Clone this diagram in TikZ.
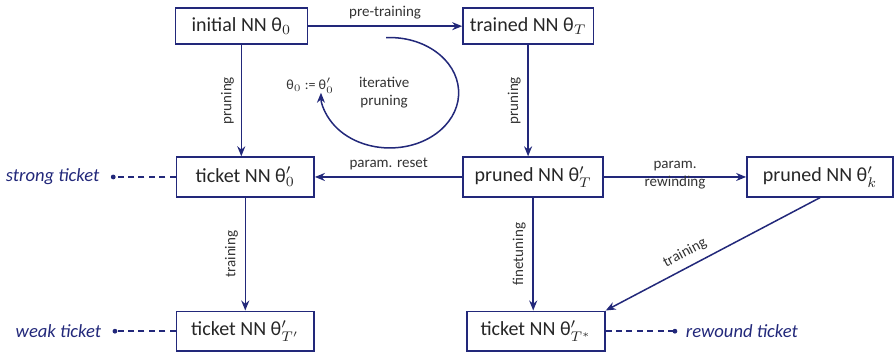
\documentclass[tikz,border=0pt]{standalone}
\usepackage{fontspec}
\setmainfont{Carlito}
\usetikzlibrary{arrows.meta}
\definecolor{navy}{RGB}{34,40,122}
\newcommand{\thp}[1]{θ$'_{#1}$}

\begin{document}
\begin{tikzpicture}[
  nnbox/.style={draw=navy, line width=0.75pt, minimum width=2.42cm, minimum height=0.70cm, font=\fontsize{10}{12}\selectfont, text=black!85},
  arr/.style={draw=navy, line width=0.75pt, -{Stealth[length=5pt,width=4pt]}},
  lbl/.style={font=\fontsize{7.5}{9}\selectfont, text=black!80},
  vlbl/.style={lbl, midway, rotate=90, anchor=south},
  tag/.style={font=\fontsize{9.3}{11}\selectfont\itshape, text=navy},
  tagline/.style={draw=navy, line width=0.75pt, dash pattern=on 3pt off 2.2pt}
]
\useasboundingbox (0,0) rectangle (15.71,6.24);

\node[nnbox, minimum width=2.32cm, minimum height=0.63cm] (init) at (4.24,5.78) {initial NN θ$_0$};
\node[nnbox, minimum width=2.29cm, minimum height=0.63cm] (trained) at (9.28,5.78) {trained NN θ$_T$};
\node[nnbox] (ticket0) at (4.31,3.13) {ticket NN \thp{0}};
\node[nnbox, minimum width=2.46cm] (prunedT) at (9.37,3.13) {pruned NN \thp{T}};
\node[nnbox, minimum width=2.57cm] (prunedk) at (14.41,3.13) {pruned NN \thp{k}};
\node[nnbox] (ticketTp) at (4.31,0.42) {ticket NN \thp{T'}};
\node[nnbox] (ticketTs) at (9.42,0.42) {ticket NN \thp{T^*}};

\draw[arr] (init) -- node[lbl, above]{pre-training} (trained);
\draw[arr] (init.south) -- node[vlbl]{pruning} (init.south |- ticket0.north);
\draw[arr] (trained.south) -- node[vlbl]{pruning} (trained.south |- prunedT.north);
\draw[arr] (prunedT) -- node[lbl, above]{param. reset} (ticket0);
\draw[arr] (prunedT) -- node[lbl, align=center, yshift=1pt]{param.\\rewinding} (prunedk);
\draw[arr] (ticket0) -- node[vlbl]{training} (ticketTp);
\draw[arr] (prunedT.south) -- node[vlbl]{finetuning} (prunedT.south |- ticketTs.north);
\draw[arr] (prunedk.south) -- node[lbl, pos=0.6, above, sloped]{training} (ticketTs.north east);

% iterative pruning loop
\coordinate (loopc) at (6.85,4.61);
\draw[arr] ([shift={(93:1.21 and 0.97)}]loopc) arc[start angle=93, end angle=-180, x radius=1.21, y radius=0.97];
\node[lbl, font=\fontsize{7}{8}\selectfont] (reset) at (5.45,4.74) {θ$_0$ := θ$'_0$};
\node[lbl, align=center] (iter) at (6.75,4.62) {iterative\\pruning};

% tickets
\coordinate (sdot) at (1.99,3.13);
\coordinate (wdot) at (2.02,0.42);
\coordinate (rdot) at (11.86,0.42);
\node[tag, anchor=east] (strong) at (1.87,3.13) {strong ticket};
\node[tag, anchor=east] (weak) at (1.90,0.42) {weak ticket};
\node[tag, anchor=west] (rewound) at (11.93,0.42) {rewound ticket};
\draw[tagline] (ticket0.west) -- (sdot);
\draw[tagline] (ticketTp.west) -- (wdot);
\draw[tagline] (ticketTs.east) -- (rdot);
\fill[navy] (sdot) circle (1.2pt) (wdot) circle (1.2pt) (rdot) circle (1.2pt);
\end{tikzpicture}
\end{document}
